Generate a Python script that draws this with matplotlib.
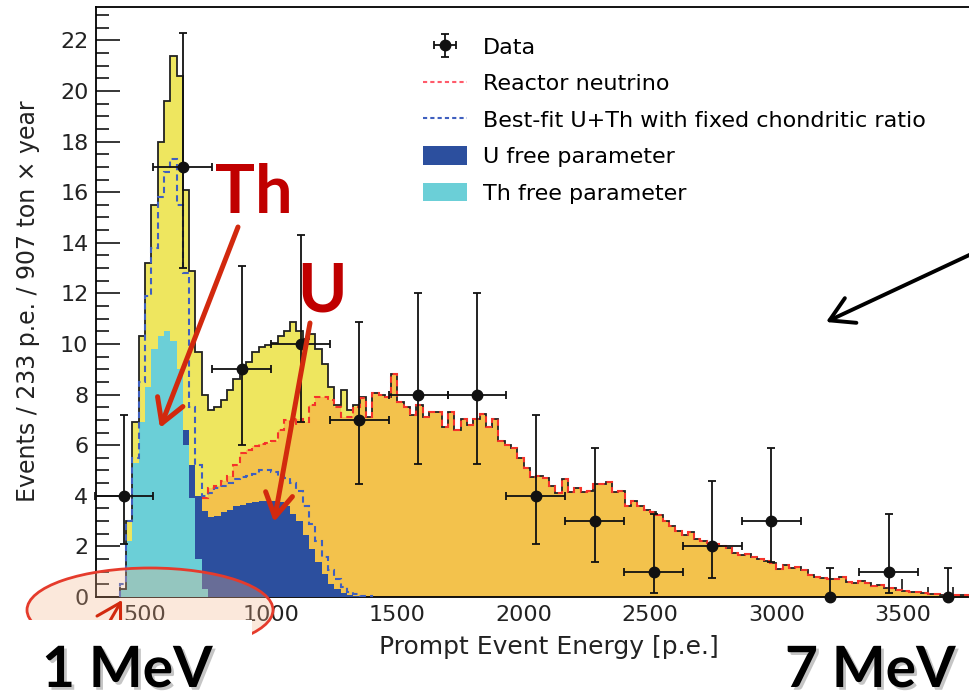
import matplotlib
matplotlib.use("Agg")
import matplotlib.pyplot as plt
import matplotlib.patheffects as pe
from matplotlib.patches import Patch, Ellipse, Rectangle, FancyArrowPatch
from matplotlib.lines import Line2D
from matplotlib.ticker import MultipleLocator
import numpy as np

# ---------------------------------------------------------------
# data (p.e. bins of 25, first bin edge given)
# ---------------------------------------------------------------
bin_width = 25

# total best fit (yellow), 400 .. 1375 p.e.; above that it equals the reactor
total_first = 400
total_low = [0.3, 3.0, 6.9, 10.3, 13.2, 15.5, 18.0, 19.6, 21.4, 20.6,
             16.1, 12.9, 9.7, 8.0, 7.4, 7.5, 7.8, 8.2, 8.6, 9.0,
             9.3, 9.7, 9.9, 9.95, 10.05, 10.3, 10.5, 10.85, 10.5, 10.2,
             10.4, 9.8, 9.2, 8.3, 7.6, 8.2, 7.4, 7.6, 7.9]

# reactor neutrino (orange), 725 .. 3800 p.e.
reactor_first = 725
reactor = [3.9, 4.3, 4.4, 4.6, 4.8, 5.2, 5.7, 5.8, 5.95, 6.05,
           6.1, 6.15, 6.6, 7.0, 6.8, 7.05, 6.9, 7.6, 7.9, 7.9,
           7.8, 7.5, 7.1, 7.1, 7.5, 7.85, 7.1, 8.05, 8.0, 7.9,
           8.8, 7.7, 7.5, 7.2, 7.6, 7.1, 7.3, 7.3, 6.7, 7.3,
           6.6, 7.05, 6.8, 7.05, 7.25, 6.7, 7.05, 6.15, 6.0, 5.9,
           5.5, 5.1, 4.75, 4.8, 4.7, 4.4, 4.1, 4.65, 4.15, 4.3,
           4.15, 4.2, 4.45, 4.45, 4.55, 4.15, 4.2, 3.6, 3.8, 3.6,
           3.45, 3.37, 3.25, 3.0, 2.8, 2.6, 2.45, 2.58, 2.3, 2.2,
           2.12, 2.1, 2.0, 1.92, 1.75, 1.65, 1.7, 1.6, 1.5, 1.42,
           1.35, 1.1, 1.25, 1.13, 1.2, 1.07, 0.87, 0.78, 0.74, 0.7,
           0.72, 0.78, 0.6, 0.55, 0.62, 0.55, 0.42, 0.47, 0.34, 0.34,
           0.28, 0.22, 0.2, 0.18, 0.14, 0.11, 0.1, 0.09, 0.08, 0.07,
           0.07, 0.06, 0.06]

# Th free parameter (cyan), 400 .. 725 p.e.
th_first = 400
th_free = [0.3, 2.2, 5.3, 6.9, 8.3, 9.8, 10.3, 10.5, 10.1, 9.0,
           6.0, 3.9, 1.5, 0.3]

# U free parameter (dark blue), 600 .. 1325 p.e.
u_first = 600
u_free = [4.5, 5.8, 6.6, 5.2, 4.0, 3.4, 3.15, 3.2, 3.35, 3.45,
          3.6, 3.65, 3.7, 3.75, 3.8, 3.8, 3.8, 3.75, 3.6, 3.3,
          3.0, 2.45, 1.9, 1.4, 0.9, 0.5, 0.3, 0.15, 0.08, 0.04]

# best-fit U+Th with fixed chondritic ratio (blue dashed), 400 .. 1375 p.e.
chond_first = 400
chondritic = [0.5, 3.0, 5.5, 8.5, 11.9, 13.8, 15.8, 16.8, 17.3, 15.5,
              12.8, 7.5, 5.2, 4.0, 4.1, 4.3, 4.4, 4.5, 4.65, 4.75,
              4.8, 4.85, 5.0, 5.0, 4.95, 4.8, 4.7, 4.5, 4.2, 3.6,
              2.9, 2.2, 1.6, 1.05, 0.7, 0.4, 0.2, 0.1, 0.05, 0.02]

# data points (233 p.e. bins)
data_x = [417, 650, 883, 1116, 1349, 1582, 1815, 2048, 2281, 2514,
          2747, 2980, 3213, 3446, 3679]
data_y = [4, 17, 9, 10, 7, 8, 8, 4, 3, 1, 2, 3, 0, 1, 0]
data_lo = [2.1, 13.0, 6.0, 6.9, 4.45, 5.25, 5.25, 2.1, 1.4, 0.17, 0.75, 1.4, 0.0, 0.17, 0.0]
data_hi = [7.2, 22.3, 13.1, 14.3, 10.85, 12.0, 12.0, 7.2, 5.9, 3.3, 4.6, 5.9, 1.15, 3.3, 1.15]
data_xerr = [116.5, 116.5, 116.5, 116.5, 116.5, 116.5, 116.5, 116.5, 116.5, 116.5,
             116.5, 116.5, 0, 116.5, 0]

# colours
c_total = "#EEE65F"
c_reactor = "#F3C24C"
c_th = "#6BCFD7"
c_u = "#2C4F9E"
c_red = "#F5332A"
c_blue = "#3F5FBF"
c_annot = "#C00000"
c_arrow = "#D2290E"

W, H = 970, 700


def edges(first, values):
    return first + bin_width * np.arange(len(values) + 1)


def fp(x, y):
    """reference pixel (from top-left) -> figure fraction"""
    return (x / W, 1 - y / H)


fig = plt.figure(figsize=(W / 100, H / 100), dpi=100)
ax = fig.add_axes([96 / W, 103 / H, 904 / W, 590 / H])

total = np.array(total_low + reactor[len(total_low) - (reactor_first - total_first) // bin_width:])

ax.stairs(total, edges(total_first, total), fill=True, color=c_total, zorder=1)
ax.stairs(reactor, edges(reactor_first, reactor), fill=True, color=c_reactor, zorder=2)
ax.stairs(u_free, edges(u_first, u_free), fill=True, color=c_u, zorder=3)
ax.stairs(th_free, edges(th_first, th_free), fill=True, color=c_th, zorder=4)
ax.stairs(total, edges(total_first, total), color="#222222", lw=1.3, zorder=5)
ax.stairs(chondritic, edges(chond_first, chondritic), color=c_blue, lw=1.5,
          linestyle=(0, (3, 2)), zorder=6)
ax.stairs(reactor, edges(reactor_first, reactor), baseline=None, color=c_red, lw=1.5,
          linestyle=(0, (3, 2)), zorder=6)

yerr = [np.array(data_y) - np.array(data_lo), np.array(data_hi) - np.array(data_y)]
eb = ax.errorbar(data_x, data_y, yerr=yerr, xerr=data_xerr, fmt="o", color="#111111",
                 ms=7.5, elinewidth=1.3, capsize=3, capthick=1.3, zorder=7, clip_on=False)

ax.set_xlim(306, 306 + 904 / 0.2525)
ax.set_ylim(0, 23.32)
ax.xaxis.set_major_locator(MultipleLocator(500))
ax.xaxis.set_minor_locator(MultipleLocator(100))
ax.yaxis.set_major_locator(MultipleLocator(2))
ax.yaxis.set_minor_locator(MultipleLocator(0.5))
ax.tick_params(axis="x", which="major", direction="in", length=13, width=1.1,
               labelsize=16, pad=5.5, labelcolor="#222222")
ax.tick_params(axis="x", which="minor", direction="in", length=7, width=1.1)
ax.tick_params(axis="y", which="major", direction="in", length=17, width=1.1,
               labelsize=16, pad=5.5, labelcolor="#222222")
ax.tick_params(axis="y", which="minor", direction="in", length=9.5, width=1.1)
for s in ["left", "bottom", "top"]:
    ax.spines[s].set_linewidth(1.3)
ax.spines["right"].set_visible(False)

fig.text(*fp(549, 647), "Prompt Event Energy [p.e.]", fontsize=18, ha="center", va="center",
         color="#222222")
fig.text(*fp(28, 301), "Events / 233 p.e. / 907 ton \u00d7 year", fontsize=17, rotation=90,
         ha="center", va="center", color="#222222")

handles = [eb,
           Line2D([], [], color="#FF5A6A", lw=1.5, linestyle=(0, (2, 1.5))),
           Line2D([], [], color=c_blue, lw=1.5, linestyle=(0, (2, 1.5))),
           Patch(facecolor=c_u), Patch(facecolor=c_th)]
labels = ["Data", "Reactor neutrino", "Best-fit U+Th with fixed chondritic ratio",
          "U free parameter", "Th free parameter"]
ax.legend(handles, labels, loc="upper left", bbox_to_anchor=fp(423, 37),
          bbox_transform=fig.transFigure, frameon=False, fontsize=16,
          handlelength=2.0, handletextpad=0.7, labelspacing=0.7, borderpad=0,
          borderaxespad=0, handleheight=0.9)

# slide annotations
bold = dict(family=["Lato", "DejaVu Sans"], fontweight="bold")
fig.text(*fp(215, 213), "Th", fontsize=48, color=c_annot, ha="left", va="baseline", **bold)
fig.text(*fp(297, 312), "U", fontsize=48, color=c_annot, ha="left", va="baseline", **bold)


def arrow(p0, p1, color, lw, z=5):
    a = FancyArrowPatch(fp(*p0), fp(*p1), transform=fig.transFigure,
                        arrowstyle="->,head_length=1.2,head_width=0.7", mutation_scale=14,
                        color=color, lw=lw, shrinkA=0, shrinkB=0, zorder=z,
                        capstyle="round", joinstyle="round")
    fig.add_artist(a)


arrow((238, 227), (160, 428), c_arrow, 3.6)
arrow((310, 323), (274, 522), c_arrow, 3.6)
arrow((980, 250), (826, 322), "black", 2.8)

fig.add_artist(Ellipse(fp(150, 610), 246 / W, 84 / H, transform=fig.transFigure,
                       facecolor=(0.96, 0.70, 0.54, 0.3), edgecolor="#E53B2C", lw=2.0, zorder=2))
arrow((96, 645), (122, 600), c_arrow, 2.2, z=2.5)
fig.add_artist(Rectangle((0, 0), 252 / W, 80 / H, transform=fig.transFigure,
                         facecolor="white", edgecolor="none", zorder=3))

shadow = [pe.SimplePatchShadow(offset=(2, -2), shadow_rgbFace="0.55", alpha=0.5), pe.Normal()]
fig.text(*fp(42, 687), "1 MeV", fontsize=41, color="black", ha="left", va="baseline",
         zorder=4, path_effects=shadow, **bold)
fig.text(*fp(785, 687), "7 MeV", fontsize=41, color="black", ha="left", va="baseline",
         zorder=4, path_effects=shadow, **bold)

fig.savefig("out.png", dpi=100)
